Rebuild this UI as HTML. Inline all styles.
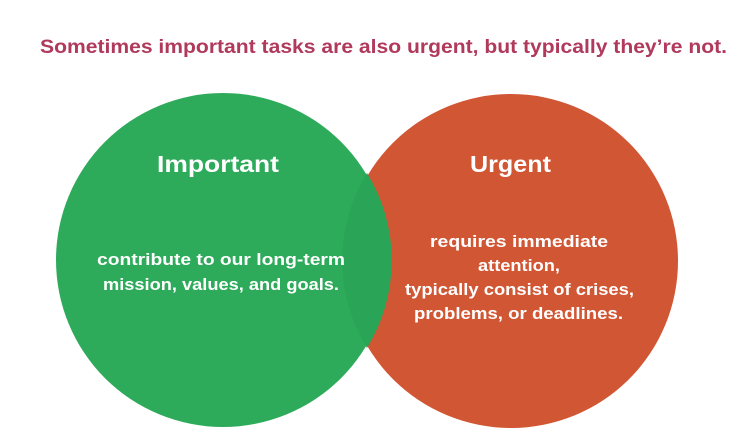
<!DOCTYPE html>
<html><head><style>html,body{margin:0;padding:0;background:#fff;}svg{display:block}</style></head>
<body>
<svg width="750" height="444" viewBox="0 0 750 444" xmlns="http://www.w3.org/2000/svg" font-family="'Liberation Sans', sans-serif" font-weight="bold">
<text x="40" y="53" font-size="19" fill="#b0395c" textLength="687" lengthAdjust="spacingAndGlyphs">Sometimes important tasks are also urgent, but typically they’re not.</text>
<circle cx="511" cy="261" r="167" fill="#d15634"/>
<circle cx="223" cy="260" r="167" fill="#2eab5a"/>
<path d="M367 173 A167 167 0 0 1 367 348 A167 167 0 0 1 367 173Z" fill="#2aa457"/>
<g fill="#fff" lengthAdjust="spacingAndGlyphs">
<text x="157" y="172" font-size="23" textLength="122" lengthAdjust="spacingAndGlyphs">Important</text>
<text x="470" y="172" font-size="23" textLength="81" lengthAdjust="spacingAndGlyphs">Urgent</text>
<text x="97" y="265" font-size="16.5" textLength="248" lengthAdjust="spacingAndGlyphs">contribute to our long-term</text>
<text x="103" y="290" font-size="16.5" textLength="236" lengthAdjust="spacingAndGlyphs">mission, values, and goals.</text>
<text x="430" y="247" font-size="16.5" textLength="178" lengthAdjust="spacingAndGlyphs">requires immediate</text>
<text x="478" y="271" font-size="16.5" textLength="82" lengthAdjust="spacingAndGlyphs">attention,</text>
<text x="405" y="295" font-size="16.5" textLength="229" lengthAdjust="spacingAndGlyphs">typically consist of crises,</text>
<text x="414" y="319" font-size="16.5" textLength="209" lengthAdjust="spacingAndGlyphs">problems, or deadlines.</text>
</g>
</svg>
</body></html>
